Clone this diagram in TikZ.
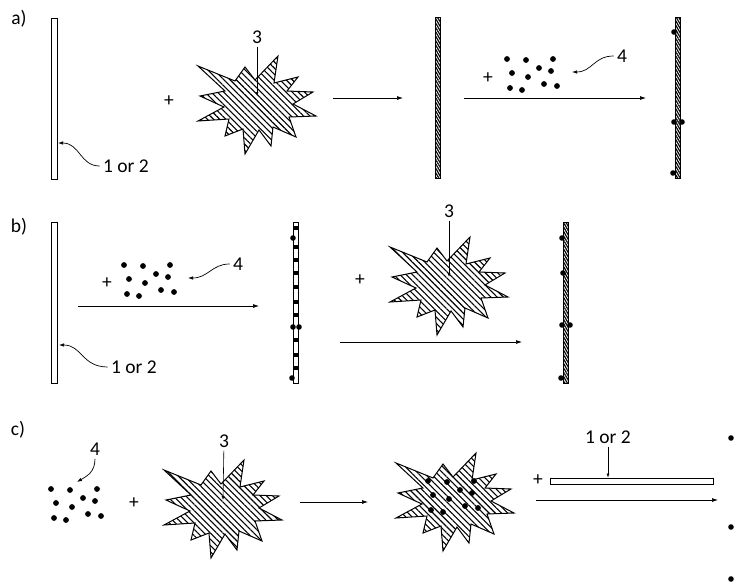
\documentclass[tikz,border=0pt]{standalone}
\usepackage{fontspec}
\setmainfont{Carlito}
\usetikzlibrary{arrows.meta,patterns.meta,positioning}

\tikzset{
 burst/.pic={
  \draw[line width=1pt,line join=miter,pattern={Lines[angle=-45,distance=4.4pt,line width=1.1pt]}]
   (-59,-39)--(-22,-24)--(-12,-38)--(-2,-25)--(21,-49)--(17,-22)--(41,-28)--(30,-14)
   --(56,-13)--(36,-1)--(59,11)--(32,12)--(39,32)--(16,22)--(14,41)--(2,25)
   --(-12,49)--(-14,24)--(-32,31)--(-28,14)--(-59,16)--(-33,2)--(-57,-9)--(-32,-14)--cycle;
  \coordinate (-c) at (0,-9);
 },
 cluster/.pic={
  \foreach \dx/\dy in {0/0,19/1,46/0,5/14,32/9,44/12,21/18,3/29,15/31,37/25,50/27}
   \fill (\dx,\dy) circle (2.9pt);
 }
}

\begin{document}
\begin{tikzpicture}[x=1pt,y=-1pt,font=\fontsize{19.5pt}{21pt}\selectfont,>=Latex,
  plate/.style={draw,fill=white,line width=.8pt,minimum width=5.5pt,minimum height=161pt,inner sep=0pt},
  coated/.style={plate,pattern={Lines[angle=-60,distance=2.2pt,line width=1.2pt]}},
  react/.style={-{Latex[length=6pt,width=4pt]},line width=.7pt},
  ptr/.style={-{Latex[length=4pt,width=3pt]},line width=.6pt},
  curl/.style={-{Latex[length=5pt,width=3.5pt]},line width=.7pt}]
 \useasboundingbox (0,0) rectangle (734,584);

 % a)
 \node (la) at (19,19) {a)};
 \node[plate] (pA1) at (54.5,99) {};
 \node (nA12) at (126,166) {1 or 2};
 \coordinate (tA12) at (58,143);
 \draw[curl] (nA12.west) .. controls (80,166) and (80,143) .. (tA12);
 \node (plA1) at (169,101) {+};
 \pic (bA) at (257,105) {burst};
 \node[inner sep=3pt] (nA3) at (257,37) {3};
 \draw[ptr] (nA3) -- (bA-c);
 \draw[react] (333,98) -- (403,98);
 \node[coated] (pA2) at (438,97.5) {};
 \node (plA2) at (488,78) {+};
 \pic at (507,59) {cluster};
 \node (nA4) at (622,56) {4};
 \coordinate (tA4) at (572,72);
 \draw[curl] (nA4.west) .. controls (594,56) and (592,72) .. (tA4);
 \draw[react] (464,98) -- (646,98);
 \node[coated] (pA3) at (678,97.5) {};
 \foreach \x/\y in {674/32,674/122,682/122,673/173}
  \fill (\x,\y) circle (2.8pt);

 % b)
 \node (lb) at (19,227) {b)};
 \node[plate] (pB1) at (54.5,302.5) {};
 \node (nB12) at (134,367) {1 or 2};
 \coordinate (tB12) at (59,345);
 \draw[curl] (nB12.west) .. controls (82,367) and (82,345) .. (tB12);
 \node (plB1) at (107,283) {+};
 \pic at (124,265) {cluster};
 \node (nB4) at (238,264) {4};
 \coordinate (tB4) at (188,278);
 \draw[curl] (nB4.west) .. controls (212,264) and (208,278) .. (tB4);
 \draw[react] (78,306) -- (259,306);
 \node[plate] (pB2) at (296,302.5) {};
 \foreach \y in {228,247,260,273,287,302,315,340,355,368}
  \fill (294,\y-2) rectangle (298,\y+2);
 \foreach \x/\y in {293/238,293/327,299/327,292/378}
  \fill (\x,\y) circle (2.8pt);
 \node (plB2) at (360,280) {+};
 \pic (bB) at (449,286) {burst};
 \node[inner sep=3pt] (nB3) at (449,211) {3};
 \draw[ptr] (nB3) -- (bB-c);
 \draw[react] (340,342) -- (522,342);
 \node[coated] (pB3) at (566,302.5) {};
 \foreach \x/\y in {562/238,563/273,562/325,570/325,561/378}
  \fill (\x,\y) circle (2.8pt);

 % c)
 \node (lc) at (18,430) {c)};
 \pic at (51,489) {cluster};
 \node (nC4) at (95,449) {4};
 \coordinate (tC4) at (77,482);
 \draw[curl] (nC4.south) .. controls (95,472) and (87,476) .. (tC4);
 \node (plC1) at (134,503) {+};
 \pic (bC) at (223,509) {burst};
 \node[inner sep=3pt] (nC3) at (224,441) {3};
 \draw[ptr] (nC3) -- (bC-c);
 \draw[react] (300,502) -- (368,502);
 \pic (bD) at (455,502) {burst};
 \pic at (428,481) {cluster};
 \node (plC2) at (538,480) {+};
 \node[plate,minimum width=163pt,minimum height=6pt] (pC) at (631.5,481) {};
 \node[inner sep=3pt] (nC12) at (608,437) {1 or 2};
 \draw[ptr] (nC12) -- (pC.north -| nC12);
 \draw[react] (536,500) -- (718,500);
 \node[coated,minimum height=160pt] (pC2) at (737,510) {};
 \foreach \y in {438,527,579}
  \fill (731,\y) circle (2.8pt);
\end{tikzpicture}
\end{document}
